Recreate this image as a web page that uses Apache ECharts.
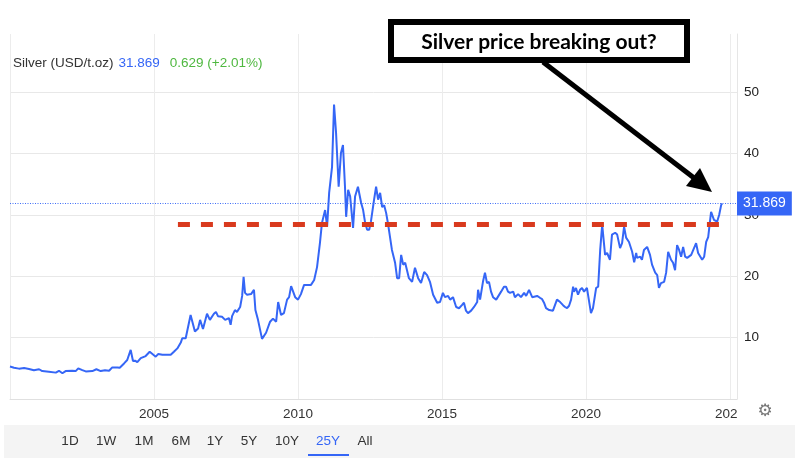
<!DOCTYPE html>
<html>
<head>
<meta charset="utf-8">
<script src="https://cdn.jsdelivr.net/npm/echarts@6/dist/echarts.min.js"></script>
<style>html,body{margin:0;padding:0;background:#fff;}#c{width:800px;height:464px;}</style>
</head>
<body>
<div id="c"></div>
<script>
// ---- data (decimal year, USD per troy ounce) ----
const years = [
2000.00,2000.14,2000.31,2000.49,2000.66,2000.83,2001.01,2001.12,2001.35,2001.59,2001.70,2001.82,2001.93,2001.99,2002.16,2002.28,2002.37,2002.51,2002.63,2002.86,
2003.00,2003.15,2003.30,2003.44,2003.55,2003.73,2003.81,2003.96,2004.07,2004.19,2004.27,2004.34,2004.42,2004.54,2004.71,2004.85,
2005.06,2005.15,2005.29,2005.41,2005.46,2005.58,2005.69,2005.81,2005.93,2005.98,2006.10,2006.27,2006.42,2006.53,2006.60,2006.70,2006.84,2006.94,
2007.08,2007.15,2007.22,2007.36,2007.47,2007.53,2007.60,2007.66,2007.71,2007.81,2007.88,2007.99,2008.06,2008.11,2008.16,2008.23,2008.37,2008.47,2008.52,2008.61,2008.75,2008.89,
2009.03,2009.13,2009.24,2009.31,2009.41,2009.51,2009.62,2009.69,2009.76,2009.90,2010.00,2010.10,2010.21,2010.45,2010.56,2010.66,2010.76,2010.83,2010.94,
2011.01,2011.08,2011.18,2011.25,2011.32,2011.41,2011.49,2011.56,2011.63,2011.67,2011.74,2011.81,2011.91,2011.98,
2012.08,2012.19,2012.26,2012.33,2012.40,2012.47,2012.53,2012.64,2012.71,2012.78,2012.85,2012.92,2012.99,
2013.06,2013.13,2013.19,2013.26,2013.37,2013.44,2013.51,2013.58,2013.65,2013.72,2013.85,2013.96,
2014.06,2014.17,2014.27,2014.38,2014.48,2014.58,2014.69,2014.83,2014.93,
2015.03,2015.10,2015.21,2015.28,2015.38,2015.49,2015.59,2015.69,2015.76,2015.83,2015.90,
2016.01,2016.11,2016.22,2016.25,2016.32,2016.42,2016.49,2016.56,2016.63,2016.70,2016.77,2016.88,2016.94,
2017.05,2017.15,2017.22,2017.29,2017.36,2017.47,2017.53,2017.64,2017.74,2017.85,2017.92,
2018.02,2018.13,2018.19,2018.30,2018.40,2018.47,2018.54,2018.61,2018.72,2018.78,2018.85,2018.92,2018.99,
2019.10,2019.20,2019.27,2019.34,2019.41,2019.48,2019.55,2019.58,2019.65,2019.72,2019.79,2019.86,2019.93,
2020.03,2020.17,2020.24,2020.35,2020.42,2020.49,2020.56,2020.66,2020.73,2020.83,2020.90,
2021.01,2021.08,2021.18,2021.25,2021.32,2021.39,2021.49,2021.60,2021.67,2021.74,2021.77,2021.88,2021.94,
2022.01,2022.12,2022.22,2022.29,2022.40,2022.47,2022.53,2022.60,2022.71,2022.78,2022.85,2022.95,
2023.02,2023.09,2023.16,2023.23,2023.30,2023.37,2023.44,2023.51,2023.65,2023.82,2023.89,
2024.03,2024.10,2024.17,2024.24,2024.34,2024.38,2024.44,2024.55,2024.62,2024.69,2024.72
];
const prices = [
5.3,5.1,4.95,5.05,4.9,4.7,4.85,4.55,4.45,4.3,4.6,4.2,4.55,4.3,4.6,4.55,5.0,4.7,4.5,4.55,
4.85,4.55,4.7,4.6,5.15,5.15,5.1,5.8,6.35,8.0,6.2,6.25,6.0,6.65,7.0,7.7,
6.9,7.35,7.2,7.2,7.45,7.2,7.7,8.25,9.2,9.9,9.9,13.7,11.0,11.5,12.9,11.4,13.9,12.9,
13.9,14.2,13.5,13.4,12.9,12.6,13.2,12.1,13.5,14.5,14.2,15.0,16.8,19.9,17.3,17.0,17.1,17.8,14.5,12.9,9.8,10.8,
12.6,13.1,12.6,15.8,13.7,14.0,16.2,16.6,18.4,16.6,16.2,17.1,18.6,18.6,19.4,21.5,25.4,28.7,30.8,
28.1,33.6,37.8,48.0,43.4,34.6,40.1,41.4,34.6,29.7,34.1,33.0,27.9,33.0,
34.6,32.0,30.8,28.7,27.6,27.6,28.9,32.5,34.6,32.5,33.6,31.3,31.6,
30.3,28.4,28.4,24.3,22.2,19.7,19.7,23.5,21.9,22.2,19.7,19.1,
21.4,19.7,18.9,20.7,20.2,19.1,17.0,15.7,15.8,
17.3,16.6,16.8,16.2,16.6,15.0,14.8,15.3,15.7,14.4,14.0,
14.4,15.0,15.8,17.8,16.2,19.1,20.6,18.9,19.1,17.5,16.6,16.2,16.5,
17.5,18.3,18.3,17.5,17.3,17.5,16.6,17.1,16.6,17.3,16.8,
17.8,16.6,16.5,16.8,16.5,16.3,15.7,14.8,14.5,14.7,14.4,15.3,16.2,
15.8,15.3,15.0,14.8,15.2,16.2,18.3,17.5,18.1,17.0,17.8,18.1,17.5,
18.1,14.0,14.8,18.1,18.3,24.3,28.4,23.5,23.8,22.7,26.8,
27.1,26.8,24.6,25.4,28.1,26.3,25.6,24.0,22.3,23.8,23.0,23.2,22.7,
24.3,24.8,23.5,21.9,20.6,20.2,18.1,18.9,19.1,20.6,24.0,22.7,
22.2,21.0,25.1,24.3,23.2,24.8,23.2,23.0,23.5,25.4,23.8,
22.7,23.2,25.6,26.4,30.5,30.0,29.2,28.9,30.0,31.6,31.869
];
const lastPrice = 31.869;
const change = '0.629';
const changePct = '(+2.01%)';
const resistance = 28.5;
const resistanceFrom = 2005.83;
const resistanceTo = 2024.93;
const xTickLabels = {2005:'2005',2010:'2010',2015:'2015',2020:'2020',2025:'2025'};
const yTickLabels = {10:'10',20:'20',30:'30',40:'40',50:'50'};
const rangeButtons = ['1D','1W','1M','6M','1Y','5Y','10Y','25Y','All'];
const activeRange = '25Y';

const BLUE = '#3566f6';
const FONT = '"Liberation Sans", Arial, sans-serif';
const chart = echarts.init(document.getElementById('c'), null, {renderer:'canvas'});

const btnX = [70,106,144,181,215,249,287,328,365];

const graphics = [
  // bottom range bar
  {type:'rect', shape:{x:4,y:425,width:791,height:33}, style:{fill:'#f4f4f4'}, z:40, silent:true},
  {type:'rect', shape:{x:308,y:454,width:41,height:2}, style:{fill:BLUE}, z:50, silent:true},
  // hide overflow of last x label
  {type:'rect', shape:{x:738,y:402,width:22,height:20}, style:{fill:'#fff'}, z:45, silent:true},
  {type:'text', x:765, y:412, z:50, style:{text:'\u2699', font:'17px "DejaVu Sans"', fill:'#777', textAlign:'center', textVerticalAlign:'middle'}},
  // annotation
  {type:'line', shape:{x1:543,y1:62,x2:698,y2:181}, style:{stroke:'#000', lineWidth:5}, z:60},
  {type:'polygon', shape:{points:[[712,192],[686,186],[700,168]]}, style:{fill:'#000'}, z:60},
  {type:'rect', shape:{x:391,y:22,width:296,height:38}, style:{fill:'#fff', stroke:'#000', lineWidth:6}, z:61},
  {type:'text', x:539, y:42, z:62, style:{text:'Silver price breaking out?', font:'bold 21px Lato, "Open Sans", sans-serif', fill:'#000', textAlign:'center', textVerticalAlign:'middle'}}
];
rangeButtons.forEach((t,i)=>{
  graphics.push({type:'text', x:btnX[i], y:441, z:50,
    style:{text:t, font:'13.5px '+FONT, fill: t===activeRange?BLUE:'#333', textAlign:'center', textVerticalAlign:'middle'}});
});

const option = {
  animation:false,
  backgroundColor:'#fff',
  title:{
    left:8, top:49,
    text:'{a|Silver (USD/t.oz)} {b|'+lastPrice.toFixed(3)+'}  {c|'+change+' '+changePct+'}',
    textStyle:{
      fontWeight:'normal',
      rich:{
        a:{fontSize:13.5, color:'#333', fontFamily:FONT, fontWeight:'normal'},
        b:{fontSize:13.5, color:BLUE, fontFamily:FONT, fontWeight:'normal'},
        c:{fontSize:13.5, color:'#4fb840', fontFamily:FONT, fontWeight:'normal'}
      }
    }
  },
  grid:{left:10, right:63, top:34, bottom:65, containLabel:false},
  xAxis:{
    type:'value', min:2000, max:2025.24, minInterval:5, maxInterval:5,
    axisLine:{show:true, lineStyle:{color:'#e0e0e0'}},
    axisTick:{show:false},
    splitLine:{show:true, lineStyle:{color:'#ececec', width:1}},
    axisLabel:{margin:8, color:'#333', fontSize:13.5, fontFamily:FONT, showMinLabel:false, showMaxLabel:false,
      formatter:(v)=> xTickLabels[Math.round(v*100)/100] || ''}
  },
  yAxis:{
    type:'value', position:'right', min:0, max:59.5, interval:10,
    axisLine:{show:true, lineStyle:{color:'#e6e6e6'}},
    axisTick:{show:false},
    splitLine:{show:true, showMaxLine:false, lineStyle:{color:'#e8e8e8', width:1}},
    axisLabel:{margin:7, color:'#222', fontSize:13.5, fontFamily:FONT, showMaxLabel:false,
      formatter:(v)=> yTickLabels[v] || ''}
  },
  graphic: graphics,
  series:[{
    type:'line',
    data: years.map((y,i)=>[y, prices[i]]),
    showSymbol:false,
    symbol:'none',
    lineStyle:{color:BLUE, width:2},
    z:5,
    markLine:{
      silent:true, symbol:['none','none'], z:20,
      data:[
        [
          {coord:[resistanceFrom, resistance], lineStyle:{color:'#d93a1e', width:5, type:[12,11]}, label:{show:false}},
          {coord:[resistanceTo, resistance]}
        ],
        {yAxis:lastPrice, lineStyle:{color:'#3f6ef7', width:1, type:[1,1.5]},
          label:{show:true, position:'end', distance:0, formatter:lastPrice.toFixed(3), color:'#fff',
            backgroundColor:BLUE, padding:[5,6], fontSize:14, fontFamily:FONT}}
      ]
    }
  }]
};
chart.setOption(option);
</script>
</body>
</html>
